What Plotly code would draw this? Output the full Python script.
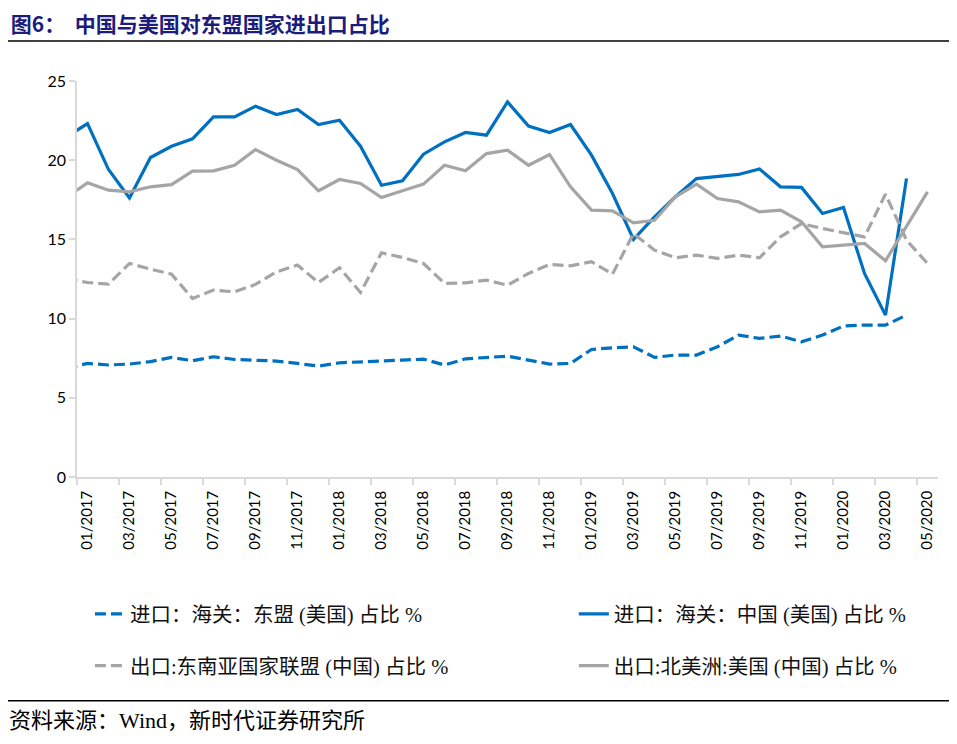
import plotly.graph_objects as go


months = [ "12/2016" ] + [ f"{m:02d}/{y}" for y in range(2017, 2021) for m in range(1, 13) ][:41]

asean_import_us     = [ 6.87, 7.17, 7.07, 7.13, 7.28, 7.55, 7.34, 7.59, 7.42, 7.38, 7.32, 7.17, 7.00, 7.21,
                        7.26, 7.28, 7.38, 7.44, 7.07, 7.46, 7.53, 7.63, 7.38, 7.13, 7.17, 8.05, 8.16, 8.22,
                        7.55, 7.70, 7.70, 8.22, 8.96, 8.75, 8.90, 8.54, 8.96, 9.53, 9.59, 9.59, 10.22 ]
china_import_us     = [ 21.47, 22.31, 19.41, 17.62, 20.17, 20.88, 21.35, 22.73, 22.73, 23.41, 22.88, 23.20,
                        22.25, 22.52, 20.88, 18.42, 18.70, 20.38, 21.16, 21.75, 21.58, 23.68, 22.15, 21.75,
                        22.25, 20.32, 17.90, 15.00, 16.42, 17.69, 18.84, 18.95, 19.10, 19.45, 18.32, 18.28,
                        16.64, 17.01, 12.85, 10.22, 18.84 ]
asean_export_china  = [ 12.50, 12.28, 12.18, 13.48, 13.12, 12.81, 11.27, 11.80, 11.69, 12.16, 12.95, 13.38,
                        12.28, 13.21, 11.65, 14.15, 13.86, 13.48, 12.22, 12.26, 12.43, 12.11, 12.85, 13.42,
                        13.33, 13.59, 12.81, 15.37, 14.32, 13.84, 14.01, 13.80, 14.01, 13.84, 15.16, 16.00,
                        15.69, 15.42, 15.16, 17.86, 14.95, 13.48 ]
us_export_china     = [ 17.65, 18.57, 18.11, 18.00, 18.32, 18.46, 19.31, 19.33, 19.68, 20.67, 20.00, 19.41,
                        18.07, 18.78, 18.53, 17.64, 18.07, 18.49, 19.68, 19.33, 20.42, 20.63, 19.68, 20.36,
                        18.32, 16.85, 16.80, 16.05, 16.21, 17.69, 18.49, 17.58, 17.37, 16.74, 16.85, 16.11,
                        14.53, 14.64, 14.74, 13.65, 15.79, 18.00 ]

BLUE    = "#0070C0"
GREY    = "#A5A5A5"
CJK     = "Liberation Serif, Noto Sans CJK SC"

# name, values, colour, dash, legend slot (column, row)
series  = [
    ( "进口：海关：东盟 (美国) 占比 %",   asean_import_us,    BLUE, "11px,5px", 0, 0 ),
    ( "进口：海关：中国 (美国) 占比 %",   china_import_us,    BLUE, "solid",    1, 0 ),
    ( "出口:东南亚国家联盟 (中国) 占比 %", asean_export_china, GREY, "11px,5px", 0, 1 ),
    ( "出口:北美洲:美国 (中国) 占比 %",   us_export_china,    GREY, "solid",    1, 1 ),
]

fig     = go.Figure()
legends = {}

for k, (name, values, color, dash, col, row) in enumerate(series):

    key = "legend" if k == 0 else f"legend{k + 1}"

    fig.add_trace(
        go.Scatter(
            x           = list(range(len(values))),
            y           = values,
            name        = name,
            mode        = "lines",
            line        = dict(color = color, width = 3.2, dash = dash),
            legend      = key
        )
    )

    legends[key] = dict(
        orientation = "h",
        x           = 0.015 + col * 0.562,
        y           = -0.346 - row * 0.131,
        xanchor     = "left",
        yanchor     = "middle",
        font        = dict(family = CJK, size = 20.5, color = "#111111"),
        bgcolor     = "rgba(0,0,0,0)"
    )

tick_pos    = [ i - 0.5 for i in range(1, len(months), 2) ]
tick_text   = months[1::2]

# the page puts the figure 8px in from the top-left corner
fig.update_layout(
    width           = 949,
    height          = 736,
    margin          = dict(l = 69, r = 19, t = 73, b = 267, autoexpand = False),
    paper_bgcolor   = "white",
    plot_bgcolor    = "white",
    showlegend      = True,
    title           = dict(
        text    = "<b>图6：  中国与美国对东盟国家进出口占比</b>",
        x       = 0.003,
        xref    = "container",
        xanchor = "left",
        y       = 0.977,
        yref    = "container",
        yanchor = "middle",
        font    = dict(family = "Noto Sans CJK SC", size = 21, color = "#1C1C7C")
    ),
    xaxis           = dict(
        range           = [ 0.5, len(months) - 0.5 ],
        tickmode        = "array",
        tickvals        = tick_pos,
        ticktext        = tick_text,
        tickangle       = -90,
        ticklabelshift  = 10,
        ticks           = "outside",
        ticklen         = 6,
        tickcolor       = "#D9D9D9",
        tickwidth       = 1.5,
        showline        = True,
        linecolor       = "#D9D9D9",
        linewidth       = 1.5,
        showgrid        = False,
        zeroline        = False,
        tickfont        = dict(family = "Lato", size = 15, color = "#000000")
    ),
    yaxis           = dict(
        range           = [ 0, 25 ],
        dtick           = 5,
        ticks           = "outside",
        ticklen         = 6,
        tickcolor       = "#D9D9D9",
        tickwidth       = 1.5,
        showline        = True,
        linecolor       = "#D9D9D9",
        linewidth       = 1.5,
        showgrid        = False,
        zeroline        = False,
        tickfont        = dict(family = "Lato", size = 16, color = "#000000")
    ),
    shapes          = [
        dict(type = "line", xref = "paper", yref = "paper", x0 = -0.0825, x1 = 1.015, y0 = 1.101, y1 = 1.101,
             line = dict(color = "black", width = 1.3)),
        dict(type = "line", xref = "paper", yref = "paper", x0 = -0.0825, x1 = 1.015, y0 = -0.565, y1 = -0.565,
             line = dict(color = "black", width = 1.3)),
    ],
    annotations     = [
        dict(
            text        = "资料来源：Wind，新时代证券研究所",
            xref        = "paper",
            yref        = "paper",
            x           = -0.081,
            y           = -0.614,
            xanchor     = "left",
            yanchor     = "middle",
            showarrow   = False,
            font        = dict(family = CJK, size = 22, color = "#000000")
        )
    ],
    **legends
)

fig.write_html("out.html")
